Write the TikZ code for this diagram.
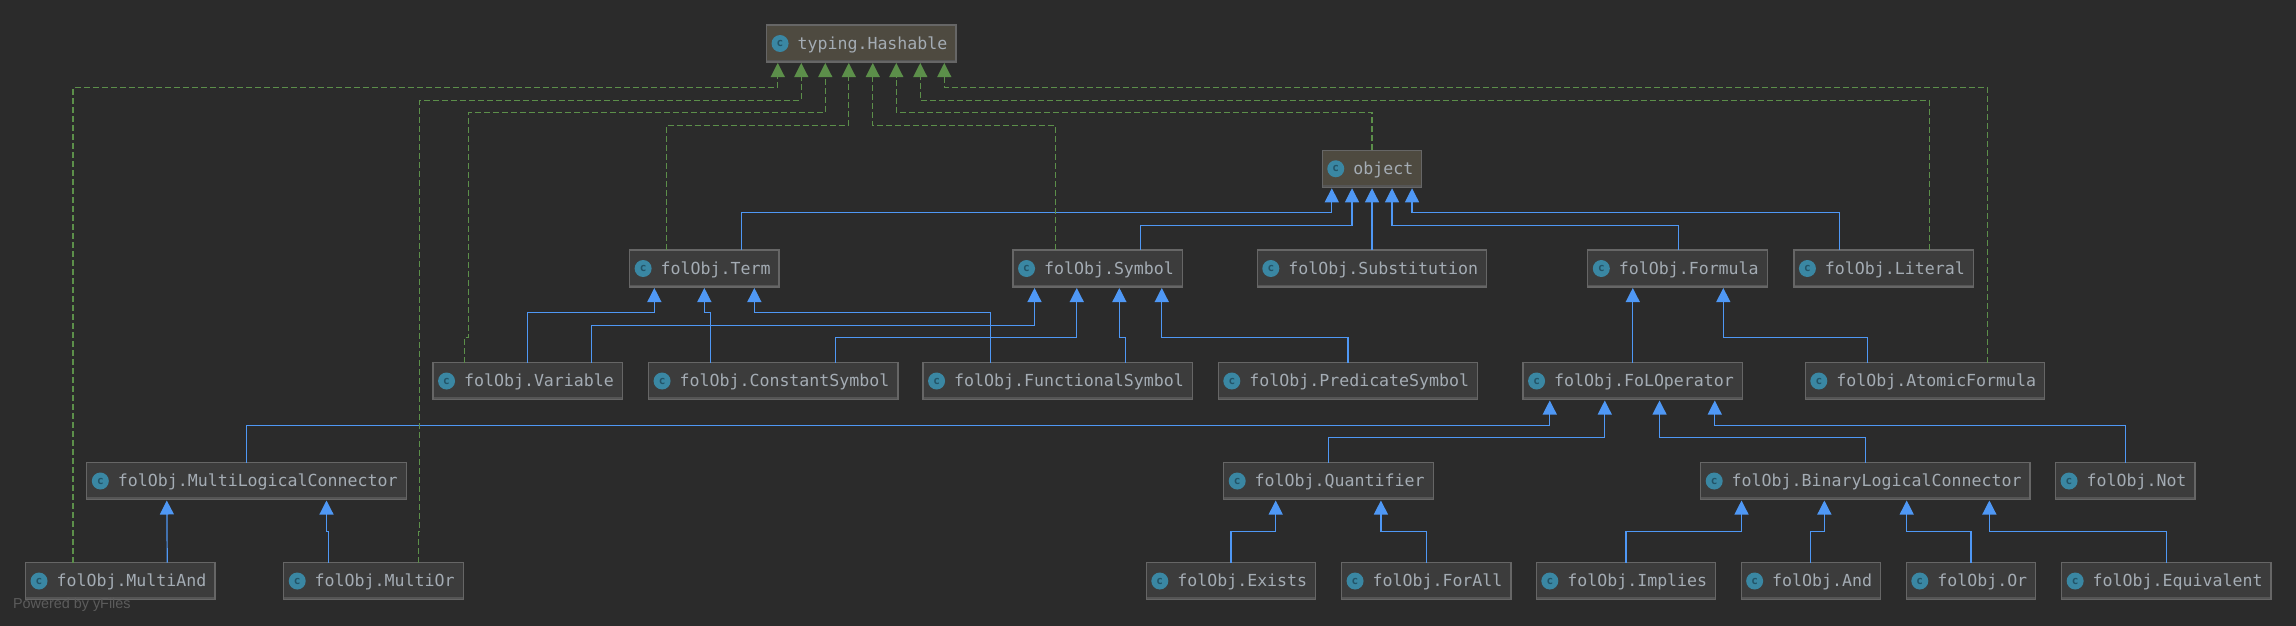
\documentclass[tikz,border=0pt]{standalone}
\usepackage{fontspec}
\setmonofont{DejaVu Sans Mono}
\newfontfamily\yfont{Liberation Sans}
\usetikzlibrary{arrows.meta}
\definecolor{umlbg}{HTML}{2B2B2B}
\definecolor{umlfill}{HTML}{3C3C3C}
\definecolor{umlext}{HTML}{4E4A40}
\definecolor{umledge}{HTML}{666666}
\definecolor{umlbar}{HTML}{555555}
\definecolor{umlink}{HTML}{A4ACB4}
\definecolor{umlico}{HTML}{3A87A3}
\definecolor{umlicoc}{HTML}{235468}
\definecolor{umlblue}{HTML}{4F98F5}
\definecolor{umlgreen}{HTML}{5C8F4A}
\definecolor{umlpow}{HTML}{5C5C5C}
\tikzset{
  cls/.style={draw=umledge,line width=1.2pt,fill=umlfill,minimum height=37pt,outer sep=0pt,
              inner xsep=8.5pt,inner ysep=0pt,text height=12pt,text depth=1pt,text=umlink,
              font=\ttfamily\fontsize{16.6}{20}\selectfont,
              execute at begin node=\hspace*{22.5pt},
              path picture={\fill[umlbar] (path picture bounding box.south west) rectangle
                ([yshift=2.5pt]path picture bounding box.south east);},
              label={[ico]west:c}},
  extcls/.style={cls,fill=umlext},
  ico/.style={circle,fill=umlico,minimum size=17pt,inner sep=0pt,anchor=center,label distance=-13.5pt,
              text=umlicoc,text height=,text depth=,execute at begin node=,
              font=\ttfamily\bfseries\fontsize{11}{11}\selectfont},
  inhe/.style={-{Triangle[length=14pt,width=14pt]},line width=1.2pt,draw=umlblue,shorten >=1pt},
  impe/.style={-{Triangle[length=14pt,width=14pt]},line width=1.1pt,draw=umlgreen,shorten >=1pt,
               dash pattern=on 6pt off 3pt},
}

\begin{document}
\begin{tikzpicture}[x=1pt,y=-1pt]
  \useasboundingbox (0,0) rectangle (2296,625);
  \fill[umlbg] (-3,-3) rectangle (2299,628);

  % rows, top to bottom
  \node[extcls] (Hashable) at (861.25,43.5) {typing.Hashable};
  \node[extcls] (object) at (1372,168.75) {object};

  \node[cls] (Term) at (704.35,268.5) {folObj.Term};
  \node[cls] (Symbol) at (1097.75,268.5) {folObj.Symbol};
  \node[cls] (Substitution) at (1372,268.5) {folObj.Substitution};
  \node[cls] (Formula) at (1677.5,268.5) {folObj.Formula};
  \node[cls] (Literal) at (1883.6,268.5) {folObj.Literal};

  \node[cls] (Variable) at (527.75,381) {folObj.Variable};
  \node[cls] (ConstantSymbol) at (773.25,381) {folObj.ConstantSymbol};
  \node[cls] (FunctionalSymbol) at (1057.75,381) {folObj.FunctionalSymbol};
  \node[cls] (PredicateSymbol) at (1348,381) {folObj.PredicateSymbol};
  \node[cls] (FoLOperator) at (1632.75,381) {folObj.FoLOperator};
  \node[cls] (AtomicFormula) at (1925,381) {folObj.AtomicFormula};

  \node[cls] (MultiLogical) at (246.5,481) {folObj.MultiLogicalConnector};
  \node[cls] (Quantifier) at (1328.4,481) {folObj.Quantifier};
  \node[cls] (BinaryLogical) at (1865.35,481) {folObj.BinaryLogicalConnector};
  \node[cls] (Not) at (2125.25,481) {folObj.Not};

  \node[cls] (MultiAnd) at (120.25,581) {folObj.MultiAnd};
  \node[cls] (MultiOr) at (373.45,581) {folObj.MultiOr};
  \node[cls] (Exists) at (1231,581) {folObj.Exists};
  \node[cls] (ForAll) at (1426.25,581) {folObj.ForAll};
  \node[cls] (Implies) at (1626,581) {folObj.Implies};
  \node[cls] (And) at (1810.85,581) {folObj.And};
  \node[cls] (Or) at (1971,581) {folObj.Or};
  \node[cls] (Equivalent) at (2166.35,581) {folObj.Equivalent};

  % inheritance from object
  \draw[inhe] ([xshift=37.15pt]Term.north) -- ++(0,-37.7) -| ([xshift=-40.2pt]object.south);
  \draw[inhe] ([xshift=42.75pt]Symbol.north) -- ++(0,-24.7) -| ([xshift=-20pt]object.south);
  \draw[inhe] (Substitution.north) -- (object.south);
  \draw[inhe] ([xshift=1pt]Formula.north) -- ++(0,-24.7) -| ([xshift=20pt]object.south);
  \draw[inhe] ([xshift=-44.3pt]Literal.north) -- ++(0,-37.5) -| ([xshift=40pt]object.south);

  % Term and Symbol
  \draw[inhe] (Variable.north) -- ++(0,-50.2) -| ([xshift=-50pt]Term.south);
  \draw[inhe] ([xshift=-62.5pt]ConstantSymbol.north) -- ++(0,-50.2) -| (Term.south);
  \draw[inhe] ([xshift=-67.5pt]FunctionalSymbol.north) -- ++(0,-50.2) -| ([xshift=50pt]Term.south);
  \draw[inhe] ([xshift=63.5pt]Variable.north) -- ++(0,-37.2) -| ([xshift=-63.25pt]Symbol.south);
  \draw[inhe] ([xshift=62.5pt]ConstantSymbol.north) -- ++(0,-25.2) -| ([xshift=-21pt]Symbol.south);
  \draw[inhe] ([xshift=67.75pt]FunctionalSymbol.north) -- ++(0,-25.2) -| ([xshift=21.6pt]Symbol.south);
  \draw[inhe] (PredicateSymbol.north) -- ++(0,-25.2) -| ([xshift=64pt]Symbol.south);

  % Formula
  \draw[inhe] (FoLOperator.north) -- (FoLOperator.north |- Formula.south);
  \draw[inhe] ([xshift=-57.7pt]AtomicFormula.north) -- ++(0,-25.2) -| ([xshift=45.8pt]Formula.south);

  % FoLOperator
  \draw[inhe] (MultiLogical.north) -- ++(0,-37.2) -| ([xshift=-83pt]FoLOperator.south);
  \draw[inhe] (Quantifier.north) -- ++(0,-25.2) -| ([xshift=-28pt]FoLOperator.south);
  \draw[inhe] (BinaryLogical.north) -- ++(0,-25.2) -| ([xshift=26.75pt]FoLOperator.south);
  \draw[inhe] (Not.north) -- ++(0,-37.2) -| ([xshift=82pt]FoLOperator.south);

  % connectors, bottom row
  \draw[inhe] ([xshift=47pt]MultiAnd.north) -- ([xshift=-79.7pt]MultiLogical.south);
  \draw[inhe] ([xshift=-44.85pt]MultiOr.north) -- ++(0,-31.2) -| ([xshift=80pt]MultiLogical.south);
  \draw[inhe] (Exists.north) -- ++(0,-30.8) -| ([xshift=-52.7pt]Quantifier.south);
  \draw[inhe] (ForAll.north) -- ++(0,-30.8) -| ([xshift=52.5pt]Quantifier.south);
  \draw[inhe] (Implies.north) -- ++(0,-30.8) -| ([xshift=-123.85pt]BinaryLogical.south);
  \draw[inhe] (And.north) -- ++(0,-30.8) -| ([xshift=-41pt]BinaryLogical.south);
  \draw[inhe] (Or.north) -- ++(0,-30.8) -| ([xshift=41.35pt]BinaryLogical.south);
  \draw[inhe] (Equivalent.north) -- ++(0,-30.8) -| ([xshift=124pt]BinaryLogical.south);

  % implementations of Hashable
  \draw[impe] ([xshift=-47.25pt]MultiAnd.north) -- ++(0,-475.2) -| ([xshift=-83.5pt]Hashable.south);
  \draw[impe] ([xshift=45pt]MultiOr.north) -- ++(0,-31) -- ++(1,0) -- ++(0,-431.2) -| ([xshift=-60pt]Hashable.south);
  \draw[impe] ([xshift=-63.5pt]Variable.north) -- ++(0,-25) -- ++(4,0) -- ++(0,-225.2) -| ([xshift=-36pt]Hashable.south);
  \draw[impe] ([xshift=-38pt]Term.north) -- ++(0,-124.7) -| ([xshift=-12.5pt]Hashable.south);
  \draw[impe] ([xshift=-42.5pt]Symbol.north) -- ++(0,-124.7) -| ([xshift=11.5pt]Hashable.south);
  \draw[impe] (object.north) -- ++(0,-37.7) -| ([xshift=35pt]Hashable.south);
  \draw[impe] ([xshift=46pt]Literal.north) -- ++(0,-149.3) -| ([xshift=59pt]Hashable.south);
  \draw[impe] ([xshift=62.75pt]AtomicFormula.north) -- ++(0,-275.2) -| ([xshift=83pt]Hashable.south);

  \node[font=\yfont\fontsize{14.4}{18}\selectfont,text=umlpow,anchor=west,inner sep=0pt] (powered) at (12.8,605) {Powered by yFiles};
\end{tikzpicture}
\end{document}
